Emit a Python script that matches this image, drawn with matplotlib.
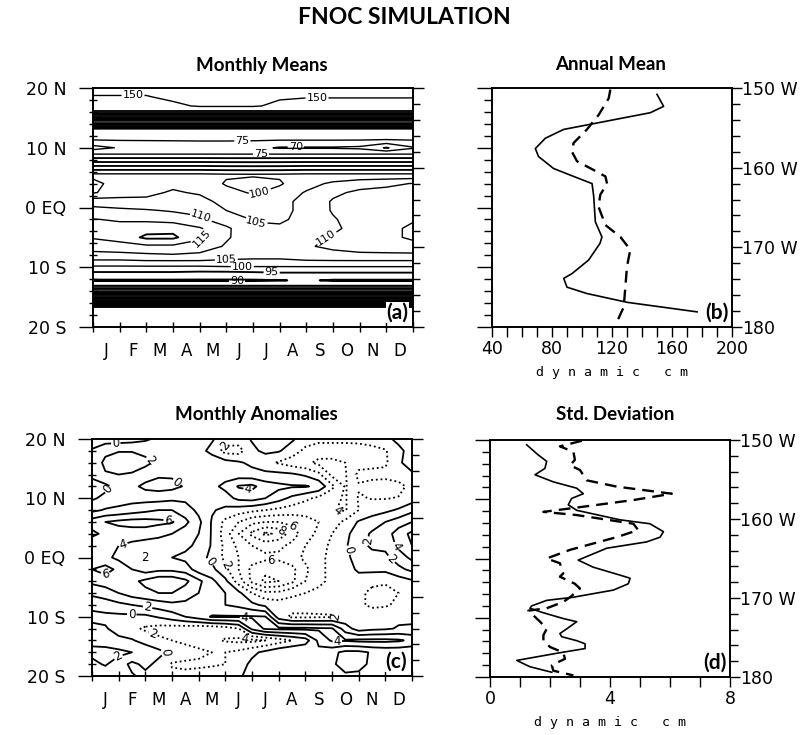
import numpy as np
import matplotlib.pyplot as plt

W, H = 808, 735

month_letters = list("JFMAMJJASOND")
lat_tick_labels = ["20 N", "10 N", "0 EQ", "10 S", "20 S"]
lon_tick_labels = ["150 W", "160 W", "170 W", "180"]

# (a) monthly mean dynamic height, rows = latitude, columns = month 0..12
month_a = np.arange(13)
lat_a = [20, 18.5, 17, 16.1, 13.1, 11.5, 10, 9, 5.5, 4, 2.5, 1, -0.5, -2, -3.5,
         -5, -6.5, -8, -9, -10, -11, -12.2, -13, -14, -16.7, -17.2, -20]
mean_a = np.array([
    [151.5, 151.5, 151.5, 153, 154, 154, 154, 153, 152, 152, 152, 152, 152],
    [149.7, 149.7, 149.7, 151, 152, 152, 152, 150.5, 150.3, 150.3, 150.3, 150.3, 150.3],
    [147.5, 147.5, 147.5, 149, 150.5, 150.5, 150.5, 149, 147.5, 147.5, 147.5, 147.5, 147.5],
    [145.5] * 13,
    [78] * 13,
    [76] * 13,
    [68, 70.5, 71, 71.5, 72, 72, 71.5, 69.5, 69.5, 69.5, 69, 64.5, 69.5],
    [74.5] * 13,
    [101, 101, 101, 101, 101, 100.6, 100.5, 100.6, 101, 101, 101, 101, 101],
    [99, 101.5, 102.5, 104, 103, 99.5, 98.5, 99.5, 103, 106, 108, 109, 110.2],
    [99.5, 102.5, 104, 105.5, 104.5, 101.5, 99.5, 101.5, 105.5, 109, 111, 111.5, 111.5],
    [108, 107, 106, 107, 106.5, 103.5, 102, 103.5, 106.5, 110.5, 111.5, 111.5, 111.5],
    [111.5, 111, 110.5, 109.5, 108.5, 105, 103.5, 104, 106, 110.5, 112, 112, 112.5],
    [115.2, 114.5, 114, 113, 111, 107, 104.8, 104.5, 106, 109.5, 112.5, 113, 114.5],
    [116, 116.5, 118, 118.5, 115.5, 111, 105.5, 105.5, 106.5, 109, 112, 113.5, 116],
    [115.5, 117, 121, 121, 116, 110.5, 107.5, 108, 108.5, 110.5, 112.5, 113.5, 116],
    [112, 113, 114, 114, 112.5, 109.5, 107.5, 108, 109.5, 111, 112, 112.5, 113],
    [108.5, 108.5, 109, 109.5, 109, 107.5, 106.5, 106.5, 107.5, 108.5, 109, 109, 109],
    [104, 104, 104.5, 104.5, 104.5, 104, 104, 104, 104.5, 104.5, 104.5, 104.5, 104.5],
    [99, 99, 99, 99, 99, 99.5, 99.5, 99.5, 99.5, 99.5, 99.5, 99.5, 99.5],
    [94, 94, 94, 94, 93.5, 93.5, 94, 94.5, 94.5, 94.5, 94.5, 94.5, 94.5],
    [89.5, 89.5, 89.5, 89.5, 89.5, 89.5, 89.5, 89.8, 90.5, 89.5, 89.5, 89.5, 89.5],
    [93] * 13,
    [115] * 13,
    [190] * 13,
    [192] * 13,
    [192] * 13,
])

# (c) monthly anomalies, rows = latitude 20N..20S, columns = month 0..12 by halves
month_c = np.arange(0, 12.5, 0.5)
lat_c = np.arange(20, -21, -2)
anom_c = np.array([
    [-1, -1, -1, -0.8, -0.3, 0.4, 0.8, 1, 0.8, 0.2, -1, -1, 0.2, 0.8, 0.8, 0.3, -1, -1.5, -1.5, -1.5, -1.5, -1.2, -0.5, 0.5, 1],
    [0.2, 1.5, 1.9, 1.9, 1.5, 1, 0.8, 0.8, 0.6, -0.5, -2.8, -2.8, -0.5, 0.5, 0.2, -1, -2.5, -3, -3, -3, -2.8, -2.6, -2.2, -0.5, 0.8],
    [0.5, 2.5, 3, 3, 2.5, 1.5, 1, 1, 1, 1, 0.8, 0.3, -0.5, -1.5, -2.2, -3, -3.5, -4.5, -4.5, -4, -2.8, -2.5, -2.3, -0.5, 1.5],
    [0.8, 1.8, 2, 1.8, 1, 0.3, 0.3, 0.8, 1, 1.2, 1.2, 1, 0.8, 0.6, 0.5, 0.3, -0.3, -1.5, -4.5, -4.2, -1.5, -1.5, -1.5, -1.2, -0.5],
    [-1.5, -0.5, 0.8, 0.5, -0.5, -0.8, -0.6, 0.2, 1, 1.5, 2.5, 4.2, 4.5, 3, 2.5, 2.2, 2.2, 1.5, -1.5, -4.2, -2.2, -2.6, -2.8, -2.5, -1.5],
    [-0.3, 0.5, 1, 1.2, 1.2, 1.2, 1.5, 1.5, 1.2, 0.8, 1.2, 2.5, 2.8, 2, 0.8, -0.5, -1.5, -2.5, -3.5, -4.2, -1.8, -2.1, -2.1, -1.9, -1],
    [1.5, 2.2, 2.5, 3, 3.5, 4, 4, 3, 1.5, 0.2, -0.5, -1, -1.5, -2, -2.5, -3, -3.5, -3.8, -3.9, -4.2, -2, -1, -0.5, 0.3, 1.5],
    [5, 6, 6.5, 6.8, 6.8, 6.5, 6.2, 4.5, 2.5, -0.2, -2.5, -4, -5.5, -6, -6, -5.5, -4.5, -4, -3, -1.5, 0.2, 1, 2, 3, 4],
    [6.5, 5.5, 5, 5, 5, 4.5, 4, 3, 2, -0.2, -3, -6, -8.5, -10.5, -9.5, -7, -5, -3.5, -2, -0.5, 1, 2.3, 3, 5, 6.5],
    [4.5, 4.5, 4, 3.5, 3, 3, 3, 2.5, 1.5, -0.2, -2.5, -4.5, -6, -6.8, -6.5, -5.5, -4, -3, -1.5, -0.2, 1, 2.5, 2.5, 4.5, 6],
    [4, 4.5, 3.5, 2.5, 2, 2.2, 2, 1.5, 0.8, -0.5, -2.5, -4, -5.2, -5.5, -5.5, -5, -3.5, -2.5, -1.5, -0.3, 0.5, 1, 1.5, 3, 4.5],
    [6, 6.8, 5.5, 4, 3, 3.5, 3.5, 3, 1, 0.5, -1.5, -4, -6.5, -7.5, -7.5, -6.5, -4.5, -2.5, -1.5, -0.5, 0.2, 0.5, 0.5, 1.5, 2.5],
    [4.5, 5, 5, 5.5, 6.5, 7.5, 7.5, 6.5, 4.5, 2.5, 0.5, -3, -6.5, -8.5, -8, -6.5, -4, -2.5, -1.5, -0.8, -0.5, -1.5, -1.8, -1, -0.3],
    [2.5, 3, 4, 5, 5.5, 6, 6, 5, 4, 3, 2, 0.5, -2, -3.5, -3.5, -2.5, -2, -1.5, -1, -1, -1.5, -2.5, -2.5, -2, -1],
    [0.5, 1, 1.5, 2, 2.5, 3, 3.5, 3.5, 3, 2.5, 2, 1.5, 0.5, -0.5, -1, -1, -1, -1, -1, -1.2, -1.5, -2.5, -2.3, -1.5, -1],
    [-0.5, -0.5, -0.5, -0.5, -0.5, 0.2, 1, 2, 3, 4.2, 4.2, 4.2, 4.2, 4.1, -1, -2.4, -2.4, -2.3, -2.2, -1.5, -0.8, -0.5, -0.5, -0.5, -0.5],
    [0.5, 0.2, -0.8, -1.5, -2.3, -2.8, -3, -3.2, -3.5, -3.5, -3, -2, 2.5, 4.3, 4.5, 4.5, 4.5, 4.3, 4.2, 1.0, -1, -0.5, -0.3, 0.2, 0.3],
    [1.5, 1, 0.5, 0.2, -0.8, -1.5, -2, -2.5, -3, -3.5, -4.2, -4.5, -4.5, -4, -3, -2, -1, 2.5, 4.3, 4.2, 4.5, 4.5, 4.5, 4.3, 3.5],
    [2.5, 2.8, 2.5, 2, 1.5, 0.5, -0.5, -1, -1.5, -2, -2, -1.5, -0.5, 0.5, 1.5, 2, 2, 1.5, 0.5, -0.5, -0.5, 0.2, 0.5, 0.5, 0.5],
    [1.5, 2.2, 1, -0.5, 0.5, -0.5, -2.2, -2.4, -2.4, -2.3, -2, -1, 0.5, 1, 1, 0.8, 0.5, 0.3, 0.2, -0.5, -0.3, 0.2, 0.3, 0.3, 0.3],
    [1, 0.8, 0.5, 0.2, -0.5, -1, -1.5, -1.5, -1.2, -0.8, -0.5, -0.2, 0.5, 0.5, 0.3, 0.2, 0.2, 0.2, 0.2, 0.2, 0.2, 0.2, 0.2, 0.2, 0.2],
])

# (b) annual mean profiles, dynamic cm against longitude
b_solid_lon = [150.8, 152.3, 153.1, 155.2, 156.3, 157.6, 158.6, 160.1, 161.1, 162, 163.6,
               166.8, 168.7, 169.5, 171.6, 173.3, 173.9, 175, 175.8, 176.9, 178.1]
b_solid_val = [150, 154.4, 145.6, 87.8, 75.6, 68.9, 71, 81, 94.4, 106.7, 107.8,
               108.9, 113.3, 112, 104.4, 93.3, 87.8, 90, 103.3, 130, 176.7]
b_dash_lon = [150.2, 151.3, 153.4, 155.2, 156.9, 158, 159.2, 160.3, 161.1, 162, 163.4,
              164.9, 167.2, 168.7, 170.3, 172.4, 175, 177.5, 179.8]
b_dash_val = [118.9, 117.8, 111, 103.3, 94.4, 93.3, 96.7, 107.8, 115.6, 116.7, 112.2,
              111, 115.6, 125.6, 132.2, 130, 128.9, 127.8, 122.2]

# (d) standard deviation profiles
d_solid_lon = [150.6, 151.9, 152.7, 153.6, 154.4, 155.3, 156.1, 156.8, 157.4, 158.2, 158.9,
               160.1, 160.6, 161.6, 162.3, 162.9, 163.7, 165.2, 166.1, 167.1, 167.5, 168.2,
               169, 169.9, 170.3, 171, 171.3, 171.8, 172.6, 173, 173.9, 174.5, 174.9, 175.4,
               175.8, 176.4, 177, 177.9, 178.7, 179.4]
d_solid_val = [1.22, 1.61, 1.89, 1.83, 1.5, 2.11, 2.89, 3.11, 2.72, 2.61, 2.89,
               4.33, 5.33, 5.78, 5.67, 5.22, 3.89, 2.94, 3.44, 4.33, 4.67, 4.61,
               4.11, 2.78, 1.89, 1.39, 1.33, 1.72, 2.44, 2.89, 2.56, 2.33, 2.39, 2.89,
               3.17, 3.17, 2.22, 0.89, 1.33, 2.06]
d_dash_lon = [150.1, 150.8, 151.5, 152.5, 153.2, 153.8, 155.1, 155.9, 156.8, 157.6, 158.5,
              159.1, 159.5, 160.6, 161.4, 162.3, 163.9, 165, 165.6, 166.9, 167.3, 168.2,
              168.8, 169.9, 170.5, 171.3, 171.6, 172, 173, 173.9, 174.7, 175.4, 176.2,
              176.9, 177.7, 178.5, 179.2, 179.8]
d_dash_val = [3.06, 2.33, 2.78, 2.83, 2.67, 3.0, 3.22, 4.22, 6.06, 4.78, 3.0,
              1.78, 2.89, 4.78, 4.94, 4.22, 2.67, 1.89, 2.33, 2.44, 2.33, 2.83,
              3.0, 2.67, 2.44, 1.89, 1.28, 1.39, 1.67, 1.89, 1.78, 1.78, 2.0,
              2.44, 2.5, 2.06, 2.11, 2.78]

# contour label spots (month, latitude) keyed by level
labels_a = {150: [(1.5, 18.8), (8.4, 18.3)], 75: [(5.6, 11.2), (6.3, 8.9)],
            70: [(7.6, 10.1)], 100: [(6.2, 3.3), (5.6, -9.9)],
            105: [(6.1, -3.4), (5.0, -8.6)], 110: [(4.0, -2.0), (8.6, -3.8)],
            115: [(4.1, -5.4)], 95: [(6.7, -10.6)], 90: [(5.4, -12.3)]}
labels_c = {0: [(0.9, 18.5), (3.3, 13.4), (0.7, 11.2), (4.0, -2.4), (1.5, -8.8), (2.9, -15.9), (9.4, 1.0)],
            2: [(2.2, 16.5), (1.9, -0.7), (2.1, -8.0), (0.9, -16.2), (9.9, 3.0), (11.2, -0.4)],
            4: [(1.2, 1.6), (5.85, 11.4), (5.7, -11.4), (9.2, -14.2), (11.4, 1.9)],
            6: [(2.85, 6.1), (0.5, -3.2)],
            -2: [(5.0, 18.8), (2.3, -12.8), (5.0, -1.2), (9.35, -11.1)],
            -4: [(9.2, 7.8), (5.7, -13.9)],
            -6: [(7.7, 6.1), (6.7, -1.2)],
            -8: [(7.2, 5.2)]}


def px_axes(x0, y0, x1, y1):
    return fig.add_axes([x0 / W, 1 - y1 / H, (x1 - x0) / W, (y1 - y0) / H])


def style_spines(ax):
    for s in ax.spines.values():
        s.set_linewidth(1.2)


def month_axes(ax):
    ax.set_xlim(0, 12)
    ax.set_ylim(-20, 20)
    ax.set_xticks(range(13))
    ax.set_xticklabels([])
    ax.set_xticks(np.arange(0.5, 12, 1), minor=True)
    ax.set_xticklabels(month_letters, minor=True)
    ax.tick_params(axis="x", which="major", direction="inout", length=7, width=1)
    ax.tick_params(axis="x", which="minor", length=0, pad=11, labelsize=12)
    ax.set_yticks([20, 10, 0, -10, -20])
    ax.set_yticklabels(lat_tick_labels)
    ax.set_yticks(np.arange(-20, 21, 2), minor=True)
    ax.tick_params(axis="y", which="major", direction="out", length=10, width=1, pad=9, labelsize=12.5)
    ax.tick_params(axis="y", which="minor", direction="inout", length=6, width=1)
    style_spines(ax)
    axr = ax.twinx()
    axr.set_ylim(180, 150)
    axr.set_yticks([150, 160, 170, 180])
    axr.set_yticklabels([])
    axr.set_yticks(np.arange(150, 181, 2), minor=True)
    axr.tick_params(which="major", direction="out", length=8, width=1)
    axr.tick_params(which="minor", direction="out", length=5, width=1)
    style_spines(axr)


def profile_axes(ax, xlim, xmajor, xminor):
    ax.set_xlim(*xlim)
    ax.set_ylim(180, 150)
    ax.set_xticks(xmajor)
    ax.set_xticks(xminor, minor=True)
    ax.tick_params(axis="x", which="both", direction="out", length=7, width=1, labelsize=12.5, pad=2)
    ax.set_xlabel("d y n a m i c   c m", family="DejaVu Sans Mono", fontsize=9.5, labelpad=6)
    axl = ax.twinx()
    axl.set_ylim(-20, 20)
    axl.set_yticks([20, 10, 0, -10, -20])
    axl.set_yticklabels([])
    axl.set_yticks(np.arange(-20, 21, 2), minor=True)
    axl.yaxis.tick_left()
    axl.tick_params(which="major", direction="out", length=11, width=1)
    axl.tick_params(which="minor", direction="out", length=6, width=1)
    ax.yaxis.tick_right()
    ax.set_yticks([150, 160, 170, 180])
    ax.set_yticklabels(lon_tick_labels)
    ax.set_yticks(np.arange(150, 181, 2), minor=True)
    ax.tick_params(axis="y", which="major", direction="out", length=7, width=1, pad=0, labelsize=12.5)
    ax.tick_params(axis="y", which="minor", direction="out", length=6, width=1)
    style_spines(ax)
    style_spines(axl)


def labelled_contours(ax, x, y, z, levels, spots, fmt, lw, fs):
    # one contour set per level so each label snaps to its own level
    for lev in levels:
        if not (np.min(z) < lev < np.max(z)):
            continue
        cs = ax.contour(x, y, z, levels=[lev], colors="k", linewidths=lw(lev),
                        linestyles="solid")
        if lev < 0:
            cs.set_linestyle((0, (1, 1.6)))
        if lev in spots:
            ax.clabel(cs, manual=spots[lev], inline=True, fmt=fmt,
                      fontsize=fs, inline_spacing=1)


def panel_tag(ax, tag):
    ax.text(0.985, 0.02, tag, transform=ax.transAxes, ha="right", va="bottom",
            family="Lato", weight="bold", fontsize=15, zorder=10,
            bbox=dict(facecolor="white", edgecolor="none", pad=0.5))


fig = plt.figure(figsize=(W / 100, H / 100), dpi=100)

fig.text(0.5, 1 - 18 / H, "FNOC SIMULATION", ha="center", va="center",
         family="Lato", weight="bold", fontsize=16.5)
for x, y, t in [(262, 65, "Monthly Means"), (611, 65, "Annual Mean"),
                (256, 415, "Monthly Anomalies"), (615, 415, "Std. Deviation")]:
    fig.text(x / W, 1 - y / H, t, ha="center", va="center",
             family="Lato", weight="bold", fontsize=13.5)

# (a)
ax_a = px_axes(93, 88, 413, 327)
labelled_contours(ax_a, month_a, lat_a, mean_a, np.arange(60, 195, 5), labels_a,
                  lambda v: f"{v:.0f}",
                  lambda v: 1.35 if (80 <= v <= 95 or v >= 120) and v != 150 else 1.0, 8)
month_axes(ax_a)
panel_tag(ax_a, "(a)")

# (c)
ax_c = px_axes(92, 439, 412, 676)
labelled_contours(ax_c, month_c, lat_c, anom_c, np.arange(-10, 9, 2), labels_c,
                  lambda v: f"{abs(v):.0f}", lambda v: 1.3, 8.5)
month_axes(ax_c)
panel_tag(ax_c, "(c)")

# (b)
ax_b = px_axes(492, 88, 732, 327)
ax_b.plot(b_solid_val, b_solid_lon, color="k", lw=1.2)
ax_b.plot(b_dash_val, b_dash_lon, color="k", lw=1.7, dashes=(5, 3))
profile_axes(ax_b, (40, 200), [40, 80, 120, 160, 200], np.arange(40, 201, 10))
panel_tag(ax_b, "(b)")

# (d)
ax_d = px_axes(490, 440, 730, 677)
ax_d.plot(d_solid_val, d_solid_lon, color="k", lw=1.2)
ax_d.plot(d_dash_val, d_dash_lon, color="k", lw=1.7, dashes=(5, 3))
profile_axes(ax_d, (0, 8), [0, 4, 8], np.arange(0, 9, 1))
panel_tag(ax_d, "(d)")

fig.savefig("out.png", dpi=100)
